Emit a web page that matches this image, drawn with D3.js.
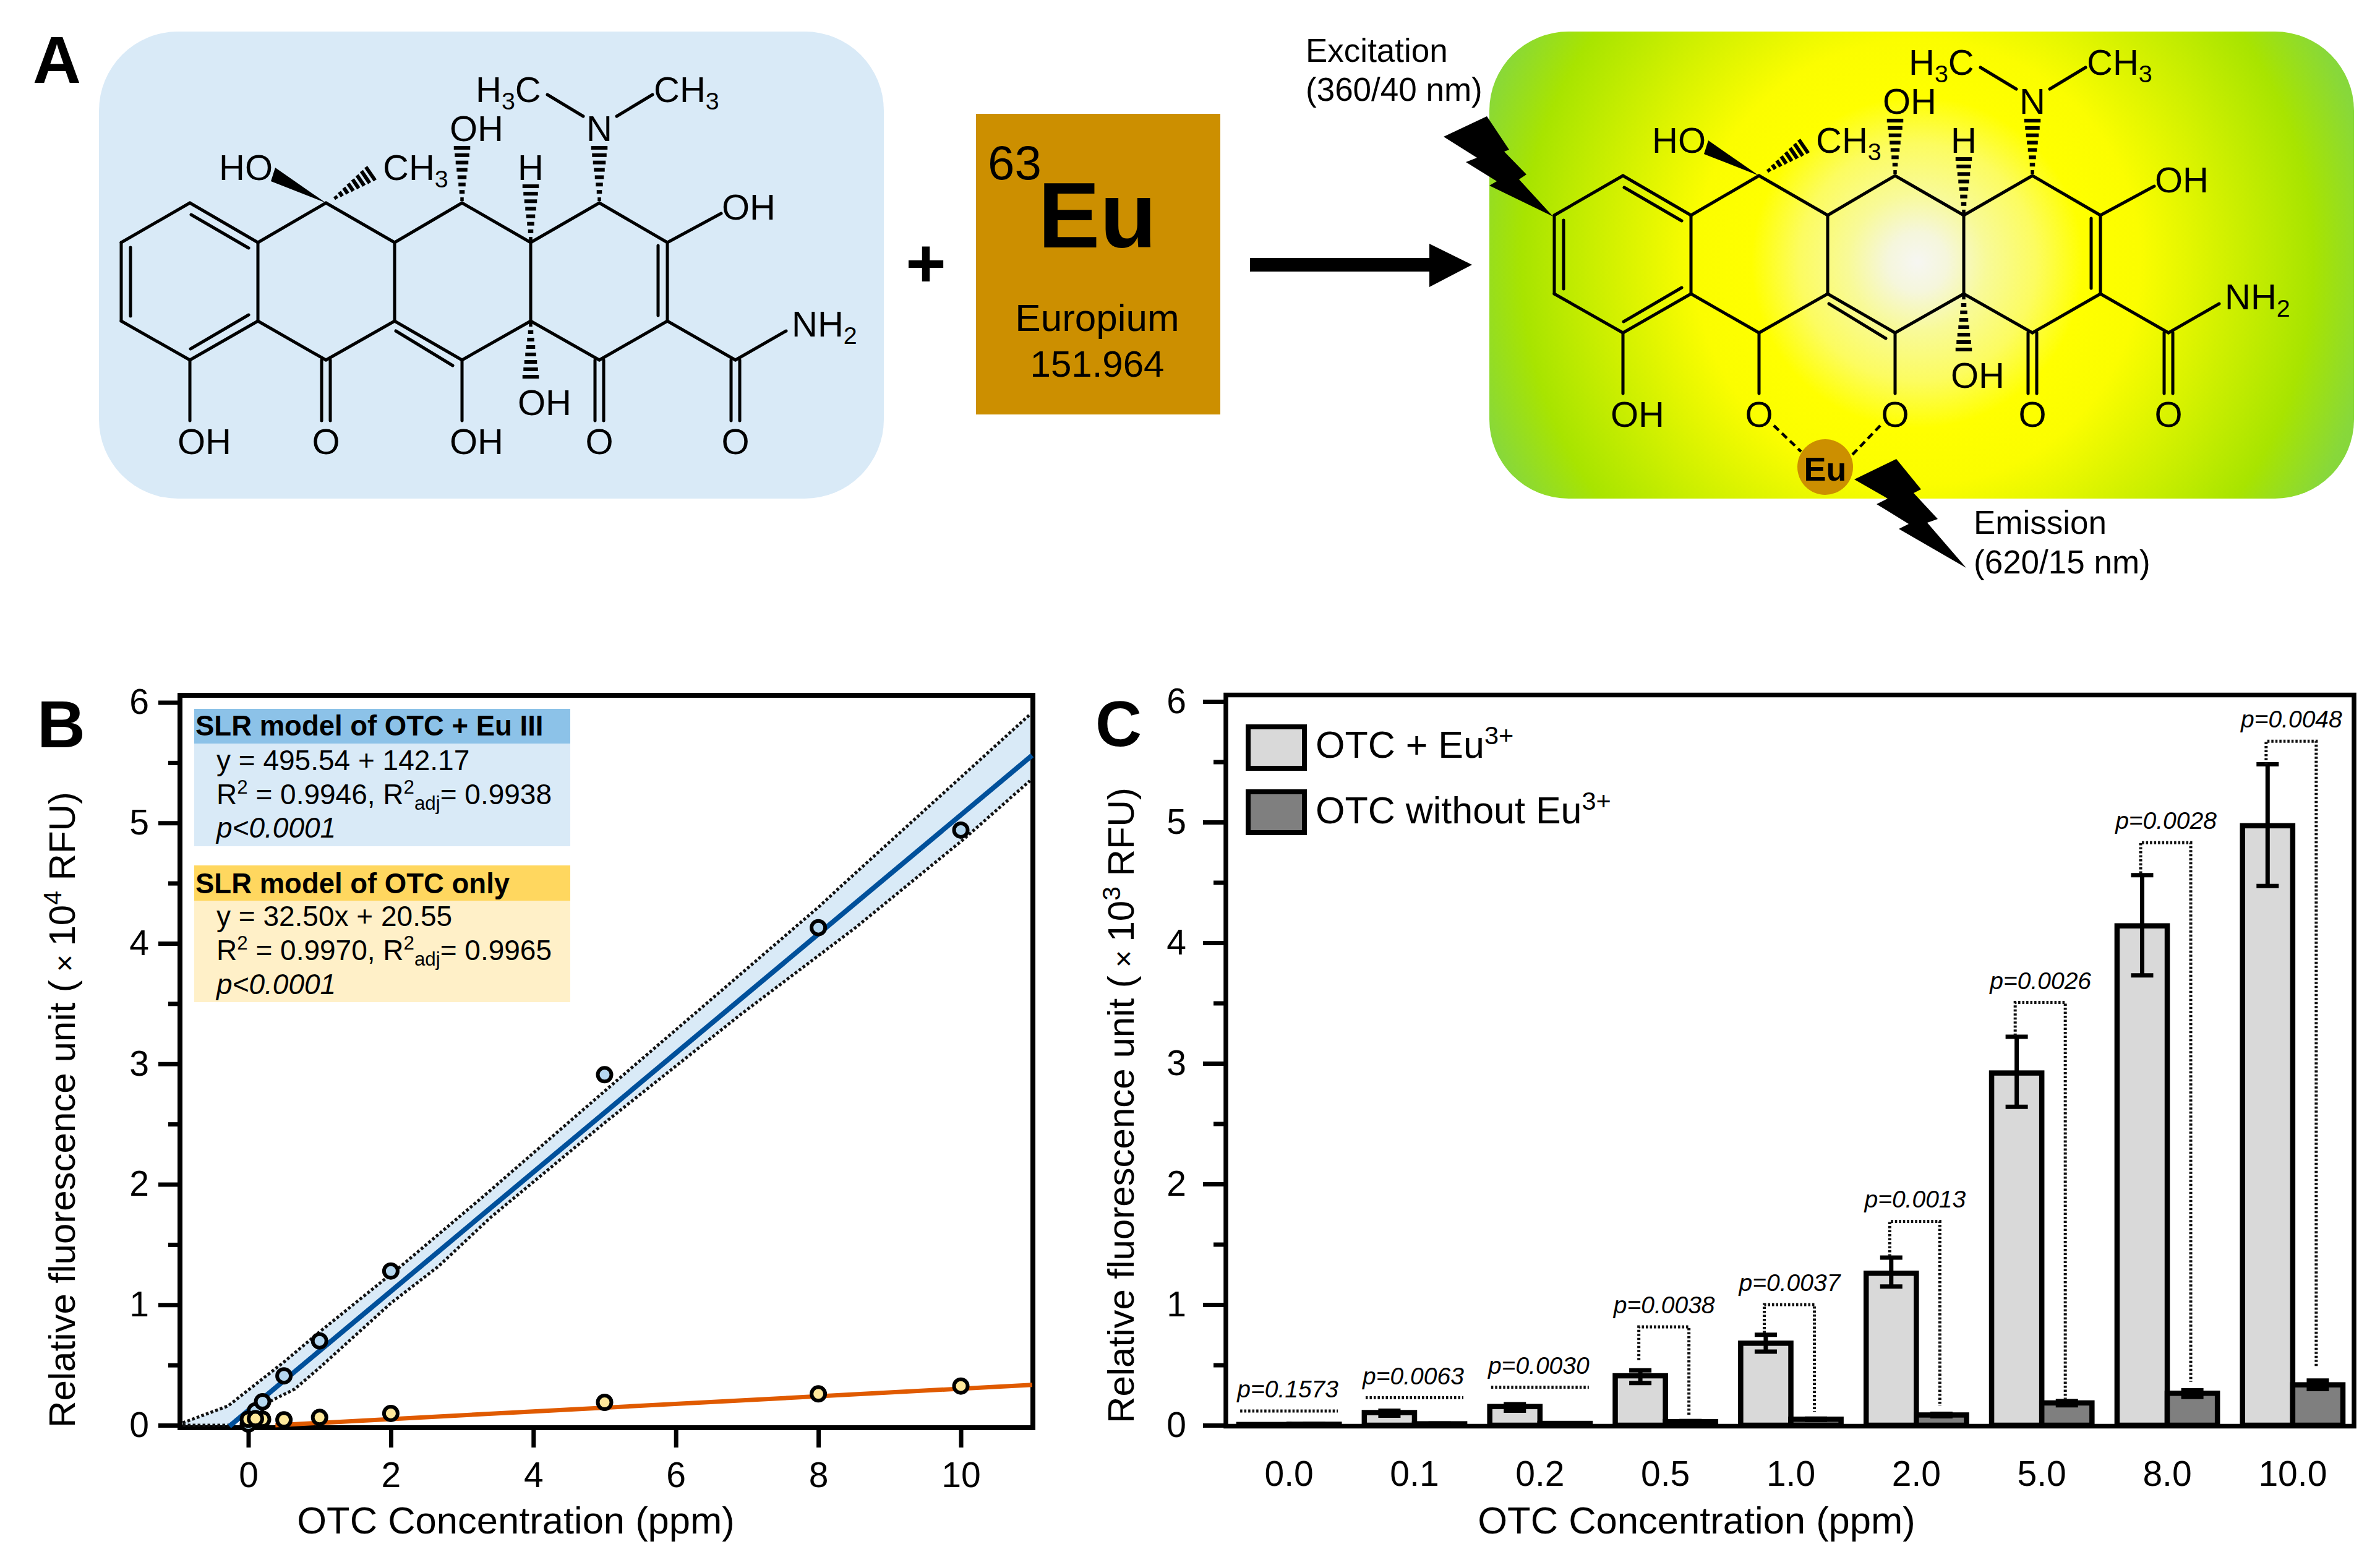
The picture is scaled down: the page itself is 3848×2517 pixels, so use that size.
<!DOCTYPE html>
<html>
<head>
<meta charset="utf-8">
<script src="https://cdn.jsdelivr.net/npm/d3@7"></script>
<style>
body { margin: 0; background: #fff; }
text { font-family: "Liberation Sans", Arial, sans-serif; fill: #000; }
</style>
</head>
<body>
<script>
// panel B data
var scatterX = [0, 0.1, 0.2, 0.5, 1, 2, 5, 8, 10];
var withEu = [0.01, 0.12, 0.195, 0.41, 0.70, 1.28, 2.91, 4.13, 4.94];
var withoutEu = [0.05, 0.055, 0.05, 0.045, 0.065, 0.098, 0.19, 0.26, 0.325];
var fitEuX = [-0.265, 11];
var fitEuY = [-0.008, 5.56];
var fitOtcX = [0.38, 11];
var fitOtcY = [0, 0.335];
var upperX = [-0.92, -0.285, 0.5, 1, 2.14, 3.29, 5.14, 6.9, 8.02, 8.31, 10.97];
var upperY = [0.02, 0.16, 0.525, 0.775, 1.32, 1.895, 2.845, 3.74, 4.31, 4.47, 5.90];
var lowerX = [-0.92, -0.27, 0.31, 0.65, 1.01, 2, 2.67, 3.4, 5.02, 6.91, 8.52, 10.03, 10.97];
var lowerY = [0, 0, 0.2, 0.30, 0.483, 1.013, 1.32, 1.725, 2.52, 3.41, 4.13, 4.86, 5.35];

// panel C data
var categories = ["0.0", "0.1", "0.2", "0.5", "1.0", "2.0", "5.0", "8.0", "10.0"];
var series = ["OTC + Eu", "OTC without Eu"];
var lightVal = [0.006, 0.105, 0.155, 0.41, 0.68, 1.26, 2.92, 4.14, 4.97];
var lightHi = [0.008, 0.12, 0.175, 0.455, 0.75, 1.39, 3.22, 4.56, 5.48];
var lightLo = [0.004, 0.08, 0.12, 0.35, 0.61, 1.15, 2.64, 3.73, 4.47];
var darkVal = [0.008, 0.012, 0.015, 0.03, 0.05, 0.085, 0.185, 0.265, 0.335];
var darkHi = [0.01, 0.014, 0.018, 0.035, 0.055, 0.095, 0.2, 0.29, 0.37];
var darkLo = [0.006, 0.01, 0.012, 0.025, 0.045, 0.075, 0.165, 0.235, 0.30];
var pLabels = ["p=0.1573", "p=0.0063", "p=0.0030", "p=0.0038", "p=0.0037", "p=0.0013", "p=0.0026", "p=0.0028", "p=0.0048"];
var bracketTop = [0.118, 0.228, 0.315, 0.815, 1.0, 1.69, 3.505, 4.83, 5.67];
var bracketLeft = [null, null, null, 0.54, 0.764, 1.40, 3.23, 4.574, 5.48];
var bracketRight = [null, null, null, 0.082, 0.113, 0.159, 0.22, 0.36, 0.482];

var yMajor = [0, 1, 2, 3, 4, 5, 6];
var yMinor = [0.5, 1.5, 2.5, 3.5, 4.5, 5.5];
var xTicksB = [0, 2, 4, 6, 8, 10];

var svg = d3.select("body").append("svg")
  .attr("width", 3848)
  .attr("height", 2517);

svg.append("rect").attr("width", 3848).attr("height", 2517).attr("fill", "#fff");

var defs = svg.append("defs");
var glow = defs.append("radialGradient")
  .attr("id", "glow")
  .attr("gradientUnits", "userSpaceOnUse")
  .attr("cx", 3100).attr("cy", 424).attr("r", 800);
[[0, "#f6f6f2"], [0.06, "#f5f6dc"], [0.14, "#f8fa98"], [0.24, "#fcfc60"], [0.335, "#ffff00"], [0.45, "#fbfd00"],
 [0.8, "#a8e400"], [0.93, "#88d83a"], [1, "#80d440"]].forEach(function (s) {
  glow.append("stop").attr("offset", s[0]).attr("stop-color", s[1]);
});
defs.append("clipPath").attr("id", "plotB").append("rect")
  .attr("x", 291).attr("y", 1124).attr("width", 1379).attr("height", 1184);

// text made of plain / sup / sub / italic runs
function runs(sel, parts, size) {
  var back = 0;
  parts.forEach(function (p) {
    var ts = sel.append("tspan").text(p.t);
    var dy = back;
    back = 0;
    if (p.sup) { dy -= size * 0.36; back = size * 0.36; ts.style("font-size", (size * 0.68) + "px"); }
    if (p.sub) { dy += size * 0.2; back = -size * 0.2; ts.style("font-size", (size * 0.68) + "px"); }
    if (p.small) { ts.style("font-size", (size * 0.8) + "px"); }
    if (p.i) ts.style("font-style", "italic");
    if (dy) ts.attr("dy", dy);
  });
  return sel;
}

function label(g, x, y, parts, size, opt) {
  opt = opt || {};
  var t = g.append("text").attr("x", x).attr("y", y)
    .style("font-size", size + "px")
    .attr("text-anchor", opt.anchor || "start");
  if (opt.bold) t.style("font-weight", "bold");
  if (opt.rotate) t.attr("transform", "rotate(-90 " + x + " " + y + ")");
  runs(t, typeof parts === "string" ? [{ t: parts }] : parts, size);
  return t;
}

// ---------- panel A ----------
var bonds = [
  [307,328,417,392],[417,392,417,519],[417,519,307,582],[307,582,196,519],[196,519,196,392],[196,392,307,328],
  [417,392,527,328],[527,328,638,392],[638,392,638,519],[638,519,527,582],[527,582,417,519],
  [638,392,747,328],[747,328,858,392],[858,392,858,519],[858,519,747,582],[747,582,638,519],
  [858,392,969,328],[969,328,1079,392],[1079,392,1079,519],[1079,519,969,582],[969,582,858,519],
  [1079,519,1189,582],[1189,582,1271,535],[1079,392,1166,345],
  [943,188,885,153],[997,188,1055,153],
  [307,582,307,680],[747,582,747,680],
  // inner lines of the double bonds
  [309,347,402,401],[211,400,211,511],[308,564,402,509],[640,535,732,591],[1064,397,1064,510]
];
var doubleO = [969, 1189];
var hashes = [
  [969,328,969,233],[747,328,747,233],[858,392,858,295],[858,519,858,615],[539,322,603,278]
];

function molecule(g, complex) {
  var draw = function (b) {
    g.append("line").attr("x1", b[0]).attr("y1", b[1]).attr("x2", b[2]).attr("y2", b[3])
      .attr("stroke", "#000").attr("stroke-width", 5).attr("stroke-linecap", "round");
  };
  bonds.forEach(draw);
  // the ketone next to ring A is C=O on the free molecule and C-O on the Eu complex
  if (complex) draw([527, 582, 527, 680]);
  (complex ? doubleO : [527].concat(doubleO)).forEach(function (x) {
    draw([x - 7, 582, x - 7, 680]);
    draw([x + 7, 582, x + 7, 680]);
  });
  hashes.forEach(function (h) {
    var dx = h[2] - h[0], dy = h[3] - h[1], len = Math.sqrt(dx * dx + dy * dy);
    var nx = -dy / len, ny = dx / len, n = 8;
    d3.range(n).forEach(function (i) {
      var f = (i + 0.5) / n, w = 2 + 12 * f;
      g.append("line")
        .attr("x1", h[0] + dx * f + nx * w).attr("y1", h[1] + dy * f + ny * w)
        .attr("x2", h[0] + dx * f - nx * w).attr("y2", h[1] + dy * f - ny * w)
        .attr("stroke", "#000").attr("stroke-width", 6);
    });
  });
  g.append("polygon").attr("points", "527,328 445,271 438,293").attr("fill", "#000");
  var s3 = function (a, t, b) {
    var out = [];
    if (a) out.push({ t: a });
    out.push({ t: t, sub: true });
    if (b) out.push({ t: b });
    return out;
  };
  label(g, 287, 734, "OH", 58);
  label(g, 527, 734, "O", 58, { anchor: "middle" });
  if (complex) label(g, 747, 734, "O", 58, { anchor: "middle" });
  else label(g, 727, 734, "OH", 58);
  label(g, 969, 734, "O", 58, { anchor: "middle" });
  label(g, 1189, 734, "O", 58, { anchor: "middle" });
  label(g, 837, 671, "OH", 58);
  label(g, 354, 291, "HO", 58);
  label(g, 619, 291, s3("CH", "3"), 58);
  label(g, 727, 228, "OH", 58);
  label(g, 858, 291, "H", 58, { anchor: "middle" });
  label(g, 969, 228, "N", 58, { anchor: "middle" });
  label(g, 769, 165, s3("H", "3", "C"), 58);
  label(g, 1057, 165, s3("CH", "3"), 58);
  label(g, 1167, 355, "OH", 58);
  label(g, 1280, 544, s3("NH", "2"), 58);
}

svg.append("rect").attr("x", 160).attr("y", 51).attr("width", 1269).attr("height", 755)
  .attr("rx", 128).attr("ry", 128).attr("fill", "#d9eaf7");
molecule(svg.append("g"), false);

label(svg, 1497, 464, "+", 112, { anchor: "middle", bold: true });

svg.append("rect").attr("x", 1578).attr("y", 184).attr("width", 395).attr("height", 486).attr("fill", "#cc8f00");
label(svg, 1597, 290, "63", 78);
label(svg, 1774, 400, "Eu", 150, { anchor: "middle", bold: true });
label(svg, 1774, 535, "Europium", 62, { anchor: "middle" });
label(svg, 1774, 609, "151.964", 60, { anchor: "middle" });

svg.append("polygon")
  .attr("points", "2021,417 2311,417 2311,394 2380,428 2311,464 2311,439 2021,439")
  .attr("fill", "#000");

svg.append("rect").attr("x", 2408).attr("y", 51).attr("width", 1398).attr("height", 755)
  .attr("rx", 128).attr("ry", 128).attr("fill", "url(#glow)");
molecule(svg.append("g").attr("transform", "translate(2317,-44)"), true);

svg.append("line").attr("x1", 2868).attr("y1", 688).attr("x2", 2912).attr("y2", 730)
  .attr("stroke", "#000").attr("stroke-width", 4.5).attr("stroke-dasharray", "11 7");
svg.append("line").attr("x1", 3040).attr("y1", 688).attr("x2", 2994).attr("y2", 736)
  .attr("stroke", "#000").attr("stroke-width", 4.5).attr("stroke-dasharray", "11 7");
svg.append("circle").attr("cx", 2951).attr("cy", 755).attr("r", 45).attr("fill", "#cc8f00");
label(svg, 2951, 777, "Eu", 54, { anchor: "middle", bold: true });

svg.append("polygon").attr("fill", "#000").attr("points",
  "2404,188 2440,242 2432,245 2468,282 2456,290 2511,350 2408,300 2420,293 2370,262 2388,255 2334,221");
svg.append("polygon").attr("fill", "#000").attr("points",
  "3066,742 3106,791 3094,797 3133,839 3116,845 3179,918 3070,855 3086,847 3034,815 3052,806 2998,775");

label(svg, 2111, 100, "Excitation", 53);
label(svg, 2111, 163, "(360/40 nm)", 53);
label(svg, 3191, 863, "Emission", 53);
label(svg, 3191, 927, "(620/15 nm)", 53);

label(svg, 53, 134, "A", 108, { bold: true });
label(svg, 60, 1208, "B", 108, { bold: true });
label(svg, 1771, 1206, "C", 104, { bold: true });

// ---------- shared axis styling ----------
function styleAxis(g, width) {
  g.select(".domain").remove();
  g.selectAll(".tick line").attr("stroke", "#000").attr("stroke-width", width);
  g.selectAll(".tick text").style("font-size", "57px").attr("fill", "#000")
    .style("font-family", '"Liberation Sans", Arial, sans-serif');
}

function leftAxes(scale, x, major, minor, pad) {
  var a = svg.append("g").attr("transform", "translate(" + x + ",0)")
    .call(d3.axisLeft(scale).tickValues(yMajor).tickFormat(d3.format("d")).tickSize(major).tickPadding(pad));
  styleAxis(a, 7);
  var b = svg.append("g").attr("transform", "translate(" + x + ",0)")
    .call(d3.axisLeft(scale).tickValues(yMinor).tickFormat("").tickSize(minor));
  styleAxis(b, 7);
}

function yTitle(x, y, power) {
  label(svg, x, y, [
    { t: "Relative fluorescence unit (" },
    { t: " × ", small: true },
    { t: "10" },
    { t: power, sup: true },
    { t: " RFU)" }
  ], 60, { anchor: "middle", rotate: true });
}

// ---------- panel B ----------
var xB = d3.scaleLinear().domain([-1, 11]).range([286.3, 1668.7]);
var yB = d3.scaleLinear().domain([0, 6]).range([2304, 1135.5]);

// info boxes
svg.append("rect").attr("x", 314).attr("y", 1146).attr("width", 608).attr("height", 56).attr("fill", "#8cc2e8");
svg.append("rect").attr("x", 314).attr("y", 1202).attr("width", 608).attr("height", 166).attr("fill", "#d9eaf7");
svg.append("rect").attr("x", 314).attr("y", 1399).attr("width", 608).attr("height", 57).attr("fill", "#ffd75f");
svg.append("rect").attr("x", 314).attr("y", 1456).attr("width", 608).attr("height", 164).attr("fill", "#fff0c8");
label(svg, 316, 1189, "SLR model of OTC + Eu III", 45.5, { bold: true });
label(svg, 350, 1245, "y = 495.54 + 142.17", 46);
label(svg, 350, 1300, [{ t: "R" }, { t: "2", sup: true }, { t: " = 0.9946, R" }, { t: "2", sup: true }, { t: "adj", sub: true }, { t: "= 0.9938" }], 46);
label(svg, 350, 1354, [{ t: "p<0.0001", i: true }], 46);
label(svg, 316, 1444, "SLR model of OTC only", 45.5, { bold: true });
label(svg, 350, 1497, "y = 32.50x + 20.55", 46);
label(svg, 350, 1552, [{ t: "R" }, { t: "2", sup: true }, { t: " = 0.9970, R" }, { t: "2", sup: true }, { t: "adj", sub: true }, { t: "= 0.9965" }], 46);
label(svg, 350, 1607, [{ t: "p<0.0001", i: true }], 46);

svg.append("rect").attr("x", 291).attr("y", 1124).attr("width", 1379).attr("height", 1184)
  .attr("fill", "none").attr("stroke", "#000").attr("stroke-width", 8);

leftAxes(yB, 291, 35, 19, 15);
var axisB = svg.append("g").attr("transform", "translate(0,2308)")
  .call(d3.axisBottom(xB).tickValues(xTicksB).tickFormat(d3.format("d")).tickSize(32).tickPadding(24));
styleAxis(axisB, 7);

// confidence band
var upper = upperX.map(function (x, i) { return [x, upperY[i]]; });
var lower = lowerX.map(function (x, i) { return [x, lowerY[i]]; });
var lineB = d3.line().x(function (d) { return xB(d[0]); }).y(function (d) { return yB(d[1]); });
var band = svg.append("g").attr("clip-path", "url(#plotB)");
band.append("path")
  .attr("d", lineB(upper.concat(lower.slice().reverse())) + "Z")
  .attr("fill", "#d9eaf7");
[upper, lower].forEach(function (c) {
  band.append("path").attr("d", lineB(c)).attr("fill", "none")
    .attr("stroke", "#111").attr("stroke-width", 5).attr("stroke-dasharray", "4.5 3.5");
});

svg.append("path")
  .attr("d", lineB(fitOtcX.map(function (x, i) { return [x, fitOtcY[i]]; })))
  .attr("fill", "none").attr("stroke", "#e05a00").attr("stroke-width", 7);
svg.append("path")
  .attr("d", lineB(fitEuX.map(function (x, i) { return [x, fitEuY[i]]; })))
  .attr("fill", "none").attr("stroke", "#00509b").attr("stroke-width", 8);

svg.append("g").selectAll("circle").data(withEu).enter().append("circle")
  .attr("cx", function (d, i) { return xB(scatterX[i]); })
  .attr("cy", function (d) { return yB(d); })
  .attr("r", 11).attr("fill", "#b5d7ef").attr("stroke", "#000").attr("stroke-width", 6);
svg.append("g").selectAll("circle").data(withoutEu).enter().append("circle")
  .attr("cx", function (d, i) { return xB(scatterX[i]); })
  .attr("cy", function (d) { return yB(d); })
  .attr("r", 11).attr("fill", "#ffe89a").attr("stroke", "#000").attr("stroke-width", 6)
  .filter(function (d, i) { return i === 1; }).raise();

label(svg, 834, 2479, "OTC Concentration (ppm)", 61.5, { anchor: "middle" });
yTitle(121, 1794, "4");

// ---------- panel C ----------
var xC = d3.scaleBand().domain(categories).range([2003, 3788]).paddingInner(0.2);
var x1C = d3.scaleBand().domain(series).range([0, xC.bandwidth()]);
var yC = d3.scaleLinear().domain([0, 6]).range([2304, 1134]);

function groupMid(i) { return xC(categories[i]) + xC.bandwidth() / 2; }

[[lightVal, "#d9d9d9", 0], [darkVal, "#7f7f7f", 1]].forEach(function (s) {
  svg.append("g").selectAll("rect").data(s[0]).enter().append("rect")
    .attr("x", function (d, i) { return xC(categories[i]) + x1C(series[s[2]]); })
    .attr("y", function (d) { return yC(d); })
    .attr("width", x1C.bandwidth())
    .attr("height", function (d) { return yC(0) - yC(d); })
    .attr("fill", s[1]).attr("stroke", "#000").attr("stroke-width", 8.5);
});

svg.append("rect").attr("x", 1982).attr("y", 1123.5).attr("width", 1824).attr("height", 1182)
  .attr("fill", "none").attr("stroke", "#000").attr("stroke-width", 7.5);

leftAxes(yC, 1982, 37, 20, 27);
var axisC = svg.append("g").attr("transform", "translate(0,2306)")
  .call(d3.axisBottom(xC).tickSize(0).tickPadding(56));
styleAxis(axisC, 0);

// error bars
[[lightHi, lightLo, 0], [darkHi, darkLo, 1]].forEach(function (s) {
  var g = svg.append("g").attr("stroke", "#000").attr("stroke-width", 7);
  s[0].forEach(function (hi, i) {
    var cx = xC(categories[i]) + x1C(series[s[2]]) + x1C.bandwidth() / 2;
    g.append("line").attr("x1", cx).attr("x2", cx).attr("y1", yC(hi)).attr("y2", yC(s[1][i]));
    g.append("line").attr("x1", cx - 18).attr("x2", cx + 18).attr("y1", yC(hi)).attr("y2", yC(hi));
    g.append("line").attr("x1", cx - 18).attr("x2", cx + 18).attr("y1", yC(s[1][i])).attr("y2", yC(s[1][i]));
  });
});

// significance brackets
var brackets = svg.append("g");
pLabels.forEach(function (p, i) {
  var mid = groupMid(i), pts;
  if (bracketLeft[i] === null) {
    pts = [[mid - 79, yC(bracketTop[i])], [mid + 79, yC(bracketTop[i])]];
  } else {
    pts = [[mid - 43, yC(bracketLeft[i])], [mid - 43, yC(bracketTop[i])],
           [mid + 38, yC(bracketTop[i])], [mid + 38, yC(bracketRight[i])]];
  }
  brackets.append("path").attr("d", d3.line()(pts)).attr("fill", "none")
    .attr("stroke", "#111").attr("stroke-width", 5).attr("stroke-dasharray", "3.5 3");
  label(brackets, mid - 2, yC(bracketTop[i]) - 22, [{ t: p, i: true }], 39, { anchor: "middle" });
});

// legend
svg.append("rect").attr("x", 2018).attr("y", 1175).attr("width", 91).attr("height", 67)
  .attr("fill", "#d9d9d9").attr("stroke", "#000").attr("stroke-width", 8);
svg.append("rect").attr("x", 2018).attr("y", 1280).attr("width", 91).attr("height", 66)
  .attr("fill", "#7f7f7f").attr("stroke", "#000").attr("stroke-width", 8);
label(svg, 2127, 1225, [{ t: series[0] }, { t: "3+", sup: true }], 61);
label(svg, 2127, 1331, [{ t: series[1] }, { t: "3+", sup: true }], 61);

label(svg, 2743, 2479, "OTC Concentration (ppm)", 61.5, { anchor: "middle" });
yTitle(1833, 1787, "3");
</script>
</body>
</html>
